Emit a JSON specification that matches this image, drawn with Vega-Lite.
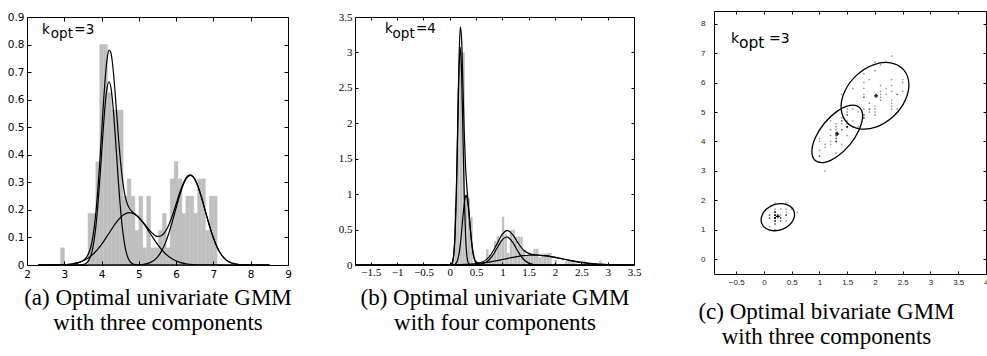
{
"$schema":"https://vega.github.io/schema/vega-lite/v6.json",
"padding":{"left":6,"top":10,"right":0,"bottom":0},
"background":"white",
"config":{"view":{"stroke":"black","strokeWidth":1},"axis":{"grid":false,"domain":false}},
"datasets":{
"histA":[{"x0":2.9,"x1":3.005,"h":0.0625},{"x0":3.635,"x1":3.74,"h":0.1875},{"x0":3.74,"x1":3.845,"h":0.1875},{"x0":3.845,"x1":3.95,"h":0.375},{"x0":3.95,"x1":4.055,"h":0.8},{"x0":4.055,"x1":4.16,"h":0.8},{"x0":4.16,"x1":4.265,"h":0.625},{"x0":4.265,"x1":4.37,"h":0.5625},{"x0":4.37,"x1":4.475,"h":0.5625},{"x0":4.475,"x1":4.58,"h":0.5625},{"x0":4.58,"x1":4.685,"h":0.25},{"x0":4.685,"x1":4.79,"h":0.3125},{"x0":4.79,"x1":4.895,"h":0.25},{"x0":4.895,"x1":5.0,"h":0.125},{"x0":5.0,"x1":5.105,"h":0.25},{"x0":5.105,"x1":5.21,"h":0.0625},{"x0":5.21,"x1":5.315,"h":0.25},{"x0":5.315,"x1":5.42,"h":0.0625},{"x0":5.42,"x1":5.525,"h":0.0625},{"x0":5.525,"x1":5.63,"h":0.125},{"x0":5.63,"x1":5.735,"h":0.1875},{"x0":5.735,"x1":5.84,"h":0.0625},{"x0":5.84,"x1":5.945,"h":0.3125},{"x0":5.945,"x1":6.05,"h":0.375},{"x0":6.05,"x1":6.155,"h":0.3125},{"x0":6.155,"x1":6.26,"h":0.1875},{"x0":6.26,"x1":6.365,"h":0.25},{"x0":6.365,"x1":6.47,"h":0.25},{"x0":6.47,"x1":6.575,"h":0.1875},{"x0":6.575,"x1":6.68,"h":0.3125},{"x0":6.68,"x1":6.785,"h":0.3125},{"x0":6.785,"x1":6.89,"h":0.125},{"x0":6.89,"x1":6.995,"h":0.25},{"x0":6.995,"x1":7.1,"h":0.25}],
"curA":[
{"c":"m","x":2.3,"y":0},{"c":"m","x":2.6,"y":0.0001},{"c":"m","x":2.9,"y":0.0007},{"c":"m","x":3.2,"y":0.0036},{"c":"m","x":3.4,"y":0.0096},{"c":"m","x":3.5,"y":0.0159},{"c":"m","x":3.6,"y":0.0288},{"c":"m","x":3.7,"y":0.0599},{"c":"m","x":3.75,"y":0.0893},{"c":"m","x":3.8,"y":0.1328},{"c":"m","x":3.85,"y":0.1936},{"c":"m","x":3.9,"y":0.2736},{"c":"m","x":3.95,"y":0.3704},{"c":"m","x":4.0,"y":0.4783},{"c":"m","x":4.05,"y":0.5865},{"c":"m","x":4.1,"y":0.6814},{"c":"m","x":4.15,"y":0.7493},{"c":"m","x":4.2,"y":0.7802},{"c":"m","x":4.25,"y":0.7702},{"c":"m","x":4.3,"y":0.7229},{"c":"m","x":4.35,"y":0.6478},{"c":"m","x":4.4,"y":0.5585},{"c":"m","x":4.45,"y":0.4681},{"c":"m","x":4.5,"y":0.3874},{"c":"m","x":4.55,"y":0.3216},{"c":"m","x":4.6,"y":0.2731},{"c":"m","x":4.65,"y":0.2398},{"c":"m","x":4.7,"y":0.2184},{"c":"m","x":4.75,"y":0.2052},{"c":"m","x":4.8,"y":0.1966},{"c":"m","x":4.9,"y":0.1849},{"c":"m","x":5.0,"y":0.1724},{"c":"m","x":5.1,"y":0.1571},{"c":"m","x":5.2,"y":0.1402},{"c":"m","x":5.3,"y":0.1237},{"c":"m","x":5.4,"y":0.1107},{"c":"m","x":5.5,"y":0.1039},{"c":"m","x":5.6,"y":0.1062},{"c":"m","x":5.7,"y":0.1194},{"c":"m","x":5.8,"y":0.1443},{"c":"m","x":5.9,"y":0.1796},{"c":"m","x":6.0,"y":0.2214},{"c":"m","x":6.1,"y":0.2638},{"c":"m","x":6.2,"y":0.2997},{"c":"m","x":6.3,"y":0.3222},{"c":"m","x":6.38,"y":0.3274},{"c":"m","x":6.5,"y":0.3119},{"c":"m","x":6.6,"y":0.2801},{"c":"m","x":6.7,"y":0.2364},{"c":"m","x":6.8,"y":0.1875},{"c":"m","x":6.9,"y":0.1397},{"c":"m","x":7.0,"y":0.0978},{"c":"m","x":7.1,"y":0.0643},{"c":"m","x":7.2,"y":0.0398},{"c":"m","x":7.3,"y":0.0231},{"c":"m","x":7.4,"y":0.0126},{"c":"m","x":7.6,"y":0.0031},{"c":"m","x":7.8,"y":0.0006},{"c":"m","x":8.0,"y":0.0001},{"c":"m","x":8.5,"y":0},
{"c":"c1","x":2.3,"y":0},{"c":"c1","x":3.4,"y":0.0002},{"c":"c1","x":3.5,"y":0.0015},{"c":"c1","x":3.6,"y":0.0074},{"c":"c1","x":3.7,"y":0.0292},{"c":"c1","x":3.75,"y":0.0529},{"c":"c1","x":3.8,"y":0.09},{"c":"c1","x":3.85,"y":0.1438},{"c":"c1","x":3.9,"y":0.216},{"c":"c1","x":3.95,"y":0.3044},{"c":"c1","x":4.0,"y":0.4033},{"c":"c1","x":4.05,"y":0.502},{"c":"c1","x":4.1,"y":0.5869},{"c":"c1","x":4.15,"y":0.6445},{"c":"c1","x":4.2,"y":0.665},{"c":"c1","x":4.25,"y":0.6445},{"c":"c1","x":4.3,"y":0.5869},{"c":"c1","x":4.35,"y":0.502},{"c":"c1","x":4.4,"y":0.4033},{"c":"c1","x":4.45,"y":0.3044},{"c":"c1","x":4.5,"y":0.216},{"c":"c1","x":4.55,"y":0.1438},{"c":"c1","x":4.6,"y":0.09},{"c":"c1","x":4.65,"y":0.0529},{"c":"c1","x":4.7,"y":0.0292},{"c":"c1","x":4.75,"y":0.0152},{"c":"c1","x":4.8,"y":0.0074},{"c":"c1","x":4.9,"y":0.0015},{"c":"c1","x":5.0,"y":0.0002},{"c":"c1","x":8.5,"y":0},
{"c":"c2","x":2.3,"y":0},{"c":"c2","x":2.6,"y":0.0001},{"c":"c2","x":2.9,"y":0.0007},{"c":"c2","x":3.2,"y":0.0036},{"c":"c2","x":3.4,"y":0.0094},{"c":"c2","x":3.6,"y":0.0214},{"c":"c2","x":3.8,"y":0.0428},{"c":"c2","x":4.0,"y":0.075},{"c":"c2","x":4.2,"y":0.1152},{"c":"c2","x":4.4,"y":0.1552},{"c":"c2","x":4.6,"y":0.1831},{"c":"c2","x":4.75,"y":0.19},{"c":"c2","x":4.9,"y":0.1831},{"c":"c2","x":5.1,"y":0.1552},{"c":"c2","x":5.3,"y":0.1152},{"c":"c2","x":5.5,"y":0.075},{"c":"c2","x":5.7,"y":0.0428},{"c":"c2","x":5.9,"y":0.0214},{"c":"c2","x":6.1,"y":0.0094},{"c":"c2","x":6.3,"y":0.0036},{"c":"c2","x":6.6,"y":0.0007},{"c":"c2","x":6.9,"y":0.0001},{"c":"c2","x":8.5,"y":0},
{"c":"c3","x":2.3,"y":0},{"c":"c3","x":4.9,"y":0.0003},{"c":"c3","x":5.1,"y":0.0019},{"c":"c3","x":5.3,"y":0.0085},{"c":"c3","x":5.5,"y":0.0289},{"c":"c3","x":5.6,"y":0.0486},{"c":"c3","x":5.7,"y":0.0766},{"c":"c3","x":5.8,"y":0.1136},{"c":"c3","x":5.9,"y":0.1582},{"c":"c3","x":6.0,"y":0.207},{"c":"c3","x":6.1,"y":0.2544},{"c":"c3","x":6.2,"y":0.2938},{"c":"c3","x":6.3,"y":0.3186},{"c":"c3","x":6.38,"y":0.325},{"c":"c3","x":6.5,"y":0.3107},{"c":"c3","x":6.6,"y":0.2794},{"c":"c3","x":6.7,"y":0.236},{"c":"c3","x":6.8,"y":0.1873},{"c":"c3","x":6.9,"y":0.1396},{"c":"c3","x":7.0,"y":0.0978},{"c":"c3","x":7.1,"y":0.0643},{"c":"c3","x":7.2,"y":0.0398},{"c":"c3","x":7.3,"y":0.0231},{"c":"c3","x":7.4,"y":0.0126},{"c":"c3","x":7.6,"y":0.0031},{"c":"c3","x":7.8,"y":0.0006},{"c":"c3","x":8.0,"y":0.0001},{"c":"c3","x":8.5,"y":0}],
"labA":[{"t":"k","x":2.4,"y":0.837},{"t":"opt","x":2.64,"y":0.824},{"t":"=3","x":3.27,"y":0.837}],
"histB":[{"x0":0.04,"x1":0.085,"h":0.1},{"x0":0.09,"x1":0.135,"h":0.81},{"x0":0.14,"x1":0.185,"h":2.5},{"x0":0.19,"x1":0.235,"h":3.0},{"x0":0.24,"x1":0.285,"h":3.0},{"x0":0.29,"x1":0.335,"h":1.0},{"x0":0.34,"x1":0.385,"h":0.95},{"x0":0.39,"x1":0.435,"h":0.68},{"x0":0.69,"x1":0.735,"h":0.22},{"x0":0.74,"x1":0.785,"h":0.15},{"x0":0.79,"x1":0.835,"h":0.15},{"x0":0.84,"x1":0.885,"h":0.34},{"x0":0.89,"x1":0.935,"h":0.41},{"x0":0.94,"x1":0.985,"h":0.35},{"x0":0.99,"x1":1.035,"h":0.68},{"x0":1.04,"x1":1.085,"h":0.43},{"x0":1.09,"x1":1.135,"h":0.17},{"x0":1.14,"x1":1.185,"h":0.49},{"x0":1.19,"x1":1.235,"h":0.5},{"x0":1.24,"x1":1.285,"h":0.4},{"x0":1.29,"x1":1.335,"h":0.4},{"x0":1.34,"x1":1.385,"h":0.4},{"x0":1.39,"x1":1.435,"h":0.2},{"x0":1.44,"x1":1.485,"h":0.13},{"x0":1.49,"x1":1.535,"h":0.17},{"x0":1.54,"x1":1.585,"h":0.14},{"x0":1.59,"x1":1.635,"h":0.23},{"x0":1.64,"x1":1.685,"h":0.23},{"x0":1.69,"x1":1.735,"h":0.11},{"x0":1.74,"x1":1.785,"h":0.16},{"x0":1.79,"x1":1.835,"h":0.16},{"x0":1.84,"x1":1.885,"h":0.17},{"x0":1.89,"x1":1.935,"h":0.17},{"x0":1.99,"x1":2.035,"h":0.07},{"x0":2.19,"x1":2.235,"h":0.05},{"x0":2.24,"x1":2.285,"h":0.06},{"x0":2.29,"x1":2.335,"h":0.06},{"x0":2.34,"x1":2.385,"h":0.06},{"x0":2.49,"x1":2.535,"h":0.06},{"x0":2.54,"x1":2.585,"h":0.06},{"x0":2.84,"x1":2.885,"h":0.06}],
"curB":[
{"c":"m","x":-1.8,"y":0},{"c":"m","x":-0.2,"y":0.0007},{"c":"m","x":0.0,"y":0.003},{"c":"m","x":0.025,"y":0.009},{"c":"m","x":0.05,"y":0.0375},{"c":"m","x":0.075,"y":0.142},{"c":"m","x":0.1,"y":0.43},{"c":"m","x":0.125,"y":1.031},{"c":"m","x":0.15,"y":1.939},{"c":"m","x":0.175,"y":2.867},{"c":"m","x":0.2,"y":3.361},{"c":"m","x":0.225,"y":3.184},{"c":"m","x":0.25,"y":2.548},{"c":"m","x":0.275,"y":1.87},{"c":"m","x":0.3,"y":1.394},{"c":"m","x":0.325,"y":1.102},{"c":"m","x":0.35,"y":0.877},{"c":"m","x":0.375,"y":0.655},{"c":"m","x":0.4,"y":0.443},{"c":"m","x":0.425,"y":0.268},{"c":"m","x":0.45,"y":0.149},{"c":"m","x":0.475,"y":0.079},{"c":"m","x":0.5,"y":0.0457},{"c":"m","x":0.55,"y":0.0305},{"c":"m","x":0.6,"y":0.0381},{"c":"m","x":0.7,"y":0.0792},{"c":"m","x":0.8,"y":0.1664},{"c":"m","x":0.9,"y":0.3019},{"c":"m","x":1.0,"y":0.4351},{"c":"m","x":1.08,"y":0.4845},{"c":"m","x":1.1,"y":0.4852},{"c":"m","x":1.2,"y":0.4238},{"c":"m","x":1.3,"y":0.3079},{"c":"m","x":1.4,"y":0.2124},{"c":"m","x":1.5,"y":0.1637},{"c":"m","x":1.6,"y":0.1461},{"c":"m","x":1.7,"y":0.1388},{"c":"m","x":1.8,"y":0.131},{"c":"m","x":1.9,"y":0.1207},{"c":"m","x":2.0,"y":0.1075},{"c":"m","x":2.1,"y":0.0926},{"c":"m","x":2.2,"y":0.0772},{"c":"m","x":2.3,"y":0.0623},{"c":"m","x":2.4,"y":0.0486},{"c":"m","x":2.5,"y":0.0367},{"c":"m","x":2.6,"y":0.0268},{"c":"m","x":2.7,"y":0.0189},{"c":"m","x":2.8,"y":0.013},{"c":"m","x":2.9,"y":0.0086},{"c":"m","x":3.0,"y":0.0055},{"c":"m","x":3.2,"y":0.002},{"c":"m","x":3.5,"y":0.0004},
{"c":"c1","x":-1.8,"y":0},{"c":"c1","x":0.0,"y":0.001},{"c":"c1","x":0.025,"y":0.0068},{"c":"c1","x":0.05,"y":0.034},{"c":"c1","x":0.075,"y":0.135},{"c":"c1","x":0.1,"y":0.415},{"c":"c1","x":0.125,"y":0.997},{"c":"c1","x":0.15,"y":1.862},{"c":"c1","x":0.175,"y":2.709},{"c":"c1","x":0.2,"y":3.07},{"c":"c1","x":0.225,"y":2.709},{"c":"c1","x":0.25,"y":1.862},{"c":"c1","x":0.275,"y":0.997},{"c":"c1","x":0.3,"y":0.415},{"c":"c1","x":0.325,"y":0.135},{"c":"c1","x":0.35,"y":0.034},{"c":"c1","x":0.375,"y":0.0068},{"c":"c1","x":0.4,"y":0.001},{"c":"c1","x":3.5,"y":0},
{"c":"c2","x":-1.8,"y":0},{"c":"c2","x":0.05,"y":0.001},{"c":"c2","x":0.1,"y":0.0109},{"c":"c2","x":0.125,"y":0.0298},{"c":"c2","x":0.15,"y":0.0719},{"c":"c2","x":0.175,"y":0.1526},{"c":"c2","x":0.2,"y":0.285},{"c":"c2","x":0.225,"y":0.469},{"c":"c2","x":0.25,"y":0.679},{"c":"c2","x":0.275,"y":0.865},{"c":"c2","x":0.3,"y":0.97},{"c":"c2","x":0.31,"y":0.98},{"c":"c2","x":0.325,"y":0.958},{"c":"c2","x":0.35,"y":0.833},{"c":"c2","x":0.375,"y":0.637},{"c":"c2","x":0.4,"y":0.429},{"c":"c2","x":0.425,"y":0.254},{"c":"c2","x":0.45,"y":0.133},{"c":"c2","x":0.475,"y":0.061},{"c":"c2","x":0.5,"y":0.0246},{"c":"c2","x":0.55,"y":0.0027},{"c":"c2","x":0.6,"y":0},{"c":"c2","x":3.5,"y":0},
{"c":"c3","x":-1.8,"y":0},{"c":"c3","x":0.4,"y":0.0003},{"c":"c3","x":0.5,"y":0.0022},{"c":"c3","x":0.6,"y":0.0113},{"c":"c3","x":0.7,"y":0.0425},{"c":"c3","x":0.8,"y":0.1178},{"c":"c3","x":0.9,"y":0.2396},{"c":"c3","x":1.0,"y":0.3579},{"c":"c3","x":1.08,"y":0.395},{"c":"c3","x":1.1,"y":0.3926},{"c":"c3","x":1.2,"y":0.3163},{"c":"c3","x":1.3,"y":0.1872},{"c":"c3","x":1.4,"y":0.0814},{"c":"c3","x":1.5,"y":0.026},{"c":"c3","x":1.6,"y":0.0061},{"c":"c3","x":1.7,"y":0.0011},{"c":"c3","x":1.8,"y":0},{"c":"c3","x":3.5,"y":0},
{"c":"c4","x":-1.8,"y":0},{"c":"c4","x":-0.2,"y":0.0007},{"c":"c4","x":0.0,"y":0.002},{"c":"c4","x":0.2,"y":0.0055},{"c":"c4","x":0.4,"y":0.013},{"c":"c4","x":0.5,"y":0.0189},{"c":"c4","x":0.6,"y":0.0268},{"c":"c4","x":0.7,"y":0.0367},{"c":"c4","x":0.8,"y":0.0486},{"c":"c4","x":0.9,"y":0.0623},{"c":"c4","x":1.0,"y":0.0772},{"c":"c4","x":1.1,"y":0.0926},{"c":"c4","x":1.2,"y":0.1075},{"c":"c4","x":1.3,"y":0.1207},{"c":"c4","x":1.4,"y":0.131},{"c":"c4","x":1.5,"y":0.1377},{"c":"c4","x":1.6,"y":0.14},{"c":"c4","x":1.7,"y":0.1377},{"c":"c4","x":1.8,"y":0.131},{"c":"c4","x":1.9,"y":0.1207},{"c":"c4","x":2.0,"y":0.1075},{"c":"c4","x":2.1,"y":0.0926},{"c":"c4","x":2.2,"y":0.0772},{"c":"c4","x":2.3,"y":0.0623},{"c":"c4","x":2.4,"y":0.0486},{"c":"c4","x":2.5,"y":0.0367},{"c":"c4","x":2.6,"y":0.0268},{"c":"c4","x":2.7,"y":0.0189},{"c":"c4","x":2.8,"y":0.013},{"c":"c4","x":2.9,"y":0.0086},{"c":"c4","x":3.0,"y":0.0055},{"c":"c4","x":3.2,"y":0.002},{"c":"c4","x":3.5,"y":0.0004}],
"labB":[{"t":"k","x":-1.232,"y":3.27},{"t":"opt","x":-1.086,"y":3.207},{"t":"=4","x":-0.643,"y":3.27}],
"iris":[{"x":0.2,"y":1.4},{"x":0.2,"y":1.4},{"x":0.2,"y":1.3},{"x":0.2,"y":1.5},{"x":0.2,"y":1.4},{"x":0.4,"y":1.7},{"x":0.3,"y":1.4},{"x":0.2,"y":1.5},{"x":0.2,"y":1.4},{"x":0.1,"y":1.5},{"x":0.2,"y":1.5},{"x":0.2,"y":1.6},{"x":0.1,"y":1.4},{"x":0.1,"y":1.1},{"x":0.2,"y":1.2},{"x":0.4,"y":1.5},{"x":0.4,"y":1.3},{"x":0.3,"y":1.4},{"x":0.3,"y":1.7},{"x":0.3,"y":1.5},{"x":0.2,"y":1.7},{"x":0.4,"y":1.5},{"x":0.2,"y":1.0},{"x":0.5,"y":1.7},{"x":0.2,"y":1.9},{"x":0.2,"y":1.6},{"x":0.4,"y":1.6},{"x":0.2,"y":1.5},{"x":0.2,"y":1.4},{"x":0.2,"y":1.6},{"x":0.2,"y":1.6},{"x":0.4,"y":1.5},{"x":0.1,"y":1.5},{"x":0.2,"y":1.4},{"x":0.2,"y":1.5},{"x":0.2,"y":1.2},{"x":0.2,"y":1.3},{"x":0.1,"y":1.4},{"x":0.2,"y":1.3},{"x":0.2,"y":1.5},{"x":0.3,"y":1.3},{"x":0.3,"y":1.3},{"x":0.2,"y":1.3},{"x":0.6,"y":1.6},{"x":0.4,"y":1.9},{"x":0.3,"y":1.4},{"x":0.2,"y":1.6},{"x":0.2,"y":1.4},{"x":0.2,"y":1.5},{"x":0.2,"y":1.4},
{"x":1.4,"y":4.7},{"x":1.5,"y":4.5},{"x":1.5,"y":4.9},{"x":1.3,"y":4.0},{"x":1.5,"y":4.6},{"x":1.3,"y":4.5},{"x":1.6,"y":4.7},{"x":1.0,"y":3.3},{"x":1.3,"y":4.6},{"x":1.4,"y":3.9},{"x":1.0,"y":3.5},{"x":1.5,"y":4.2},{"x":1.0,"y":4.0},{"x":1.4,"y":4.7},{"x":1.3,"y":3.6},{"x":1.4,"y":4.4},{"x":1.5,"y":4.5},{"x":1.0,"y":4.1},{"x":1.5,"y":4.5},{"x":1.1,"y":3.9},{"x":1.8,"y":4.8},{"x":1.3,"y":4.0},{"x":1.5,"y":4.9},{"x":1.2,"y":4.7},{"x":1.3,"y":4.3},{"x":1.4,"y":4.4},{"x":1.4,"y":4.8},{"x":1.7,"y":5.0},{"x":1.5,"y":4.5},{"x":1.0,"y":3.5},{"x":1.1,"y":3.8},{"x":1.0,"y":3.7},{"x":1.2,"y":3.9},{"x":1.6,"y":5.1},{"x":1.5,"y":4.5},{"x":1.6,"y":4.5},{"x":1.5,"y":4.7},{"x":1.3,"y":4.4},{"x":1.3,"y":4.1},{"x":1.3,"y":4.0},{"x":1.2,"y":4.4},{"x":1.4,"y":4.6},{"x":1.2,"y":4.0},{"x":1.0,"y":3.3},{"x":1.3,"y":4.2},{"x":1.2,"y":4.2},{"x":1.3,"y":4.2},{"x":1.3,"y":4.3},{"x":1.1,"y":3.0},{"x":1.3,"y":4.1},
{"x":2.5,"y":6.0},{"x":1.9,"y":5.1},{"x":2.1,"y":5.9},{"x":1.8,"y":5.6},{"x":2.2,"y":5.8},{"x":2.1,"y":6.6},{"x":1.7,"y":4.5},{"x":1.8,"y":6.3},{"x":1.8,"y":5.8},{"x":2.5,"y":6.1},{"x":2.0,"y":5.1},{"x":1.9,"y":5.3},{"x":2.1,"y":5.5},{"x":2.0,"y":5.0},{"x":2.4,"y":5.1},{"x":2.3,"y":5.3},{"x":1.8,"y":5.5},{"x":2.2,"y":6.7},{"x":2.3,"y":6.9},{"x":1.5,"y":5.0},{"x":2.3,"y":5.7},{"x":2.0,"y":4.9},{"x":2.0,"y":6.7},{"x":1.8,"y":4.9},{"x":2.1,"y":5.7},{"x":1.8,"y":6.0},{"x":1.8,"y":4.8},{"x":1.8,"y":4.9},{"x":2.1,"y":5.6},{"x":1.6,"y":5.8},{"x":1.9,"y":6.1},{"x":2.0,"y":6.4},{"x":2.2,"y":5.6},{"x":1.5,"y":5.1},{"x":1.4,"y":5.6},{"x":2.3,"y":6.1},{"x":2.4,"y":5.6},{"x":1.8,"y":5.5},{"x":1.8,"y":4.8},{"x":2.1,"y":5.4},{"x":2.4,"y":5.6},{"x":2.3,"y":5.1},{"x":1.9,"y":5.1},{"x":2.3,"y":5.9},{"x":2.5,"y":5.7},{"x":2.3,"y":5.2},{"x":1.9,"y":5.0},{"x":2.0,"y":5.2},{"x":2.3,"y":5.4},{"x":1.8,"y":5.1}],
"ell":[{"e":1,"i":0,"x":0.541,"y":1.633},{"e":1,"i":1,"x":0.541,"y":1.399},{"e":1,"i":2,"x":0.464,"y":1.172},{"e":1,"i":3,"x":0.329,"y":1.015},{"e":1,"i":4,"x":0.173,"y":0.969},{"e":1,"i":5,"x":0.037,"y":1.047},{"e":1,"i":6,"x":-0.041,"y":1.227},{"e":1,"i":7,"x":-0.041,"y":1.461},{"e":1,"i":8,"x":0.036,"y":1.688},{"e":1,"i":9,"x":0.171,"y":1.845},{"e":1,"i":10,"x":0.327,"y":1.891},{"e":1,"i":11,"x":0.463,"y":1.813},
{"e":2,"i":0,"x":1.716,"y":5.165},{"e":2,"i":1,"x":1.777,"y":4.861},{"e":2,"i":2,"x":1.715,"y":4.395},{"e":2,"i":3,"x":1.548,"y":3.893},{"e":2,"i":4,"x":1.319,"y":3.49},{"e":2,"i":5,"x":1.091,"y":3.293},{"e":2,"i":6,"x":0.924,"y":3.355},{"e":2,"i":7,"x":0.863,"y":3.659},{"e":2,"i":8,"x":0.925,"y":4.125},{"e":2,"i":9,"x":1.092,"y":4.627},{"e":2,"i":10,"x":1.321,"y":5.03},{"e":2,"i":11,"x":1.549,"y":5.227},
{"e":3,"i":0,"x":2.514,"y":6.438},{"e":3,"i":1,"x":2.61,"y":5.968},{"e":3,"i":2,"x":2.542,"y":5.387},{"e":3,"i":3,"x":2.329,"y":4.848},{"e":3,"i":4,"x":2.028,"y":4.498},{"e":3,"i":5,"x":1.719,"y":4.43},{"e":3,"i":6,"x":1.486,"y":4.662},{"e":3,"i":7,"x":1.39,"y":5.132},{"e":3,"i":8,"x":1.458,"y":5.713},{"e":3,"i":9,"x":1.671,"y":6.252},{"e":3,"i":10,"x":1.972,"y":6.602},{"e":3,"i":11,"x":2.281,"y":6.67}],
"ctr":[{"x":0.25,"y":1.46},{"x":1.32,"y":4.26},{"x":2.02,"y":5.55}],
"labC":[{"t":"k","x":-0.594,"y":7.355},{"t":"=3","x":0.09,"y":7.355}],
"labC2":[{"t":"opt","x":-0.45,"y":7.185}]
},
"spacing":55,
"hconcat":[
{"spacing":-2,"vconcat":[
{"width":1,"height":1,"view":{"stroke":null},"data":{"values":[]},"mark":{"type":"point","opacity":0},"encoding":{}},
{"spacing":45,"hconcat":[
{"width":261,"height":248,
"resolve":{"axis":{"x":"independent","y":"independent"}},
"layer":[
{"data":{"name":"histA"},"mark":{"type":"rect","color":"#bfbfbf","stroke":"#bfbfbf","strokeWidth":0.4},
"encoding":{
"x":{"field":"x0","type":"quantitative","scale":{"domain":[2,9],"nice":false,"zero":false},"axis":{"orient":"bottom","values":[2,3,4,5,6,7,8,9],"format":"~g","tickSize":-4,"tickColor":"black","labelPadding":8,"labelFont":"DejaVu Sans","labelFontSize":10.5,"labelColor":"black","labelFlush":false,"labelOverlap":false,"labelBound":false,"zindex":1,"title":["(a) Optimal univariate GMM","with three components"],"titleFont":"Liberation Serif","titleFontSize":23,"titleFontWeight":"normal","titleColor":"black","titleLineHeight":25,"titleBaseline":"alphabetic","titleY":39}},
"x2":{"field":"x1"},
"y":{"field":"h","type":"quantitative","scale":{"domain":[0,0.9],"nice":false,"zero":false},"axis":{"orient":"left","values":[0,0.1,0.2,0.3,0.4,0.5,0.6,0.7,0.8,0.9],"format":"~g","tickSize":-4,"tickColor":"black","labelPadding":7,"labelFont":"DejaVu Sans","labelFontSize":10.5,"labelColor":"black","labelFlush":false,"labelOverlap":false,"labelBound":false,"zindex":1,"title":null}},
"y2":{"datum":0}}},
{"data":{"name":"curA"},"mark":{"type":"line","color":"black","strokeWidth":1.2,"interpolate":"monotone","clip":true},
"encoding":{
"x":{"field":"x","type":"quantitative","scale":{"domain":[2,9],"nice":false,"zero":false},"axis":{"orient":"top","values":[2,3,4,5,6,7,8,9],"tickSize":-4,"tickColor":"black","labels":false,"zindex":1,"title":null}},
"y":{"field":"y","type":"quantitative","scale":{"domain":[0,0.9],"nice":false,"zero":false},"axis":{"orient":"right","values":[0,0.1,0.2,0.3,0.4,0.5,0.6,0.7,0.8,0.9],"tickSize":-4,"tickColor":"black","labels":false,"zindex":1,"title":null}},
"detail":{"field":"c"}}},
{"data":{"name":"labA"},"mark":{"type":"text","align":"left","baseline":"alphabetic","font":"DejaVu Sans","fontSize":13.5,"color":"black"},
"encoding":{
"x":{"field":"x","type":"quantitative","scale":{"domain":[2,9],"nice":false,"zero":false},"axis":null},
"y":{"field":"y","type":"quantitative","scale":{"domain":[0,0.9],"nice":false,"zero":false},"axis":null},
"text":{"field":"t"}}}
]},
{"width":279,"height":248,
"resolve":{"axis":{"x":"independent","y":"independent"}},
"layer":[
{"data":{"name":"histB"},"mark":{"type":"rect","color":"#bfbfbf"},
"encoding":{
"x":{"field":"x0","type":"quantitative","scale":{"domain":[-1.8,3.5],"nice":false,"zero":false},"axis":{"orient":"bottom","values":[-1.5,-1,-0.5,0,0.5,1,1.5,2,2.5,3,3.5],"format":"~g","tickSize":-3,"tickColor":"black","labelPadding":4.5,"labelFont":"Liberation Serif","labelFontSize":11,"labelColor":"black","labelFlush":false,"labelOverlap":false,"labelBound":false,"zindex":1,"title":["(b) Optimal univariate GMM","with four components"],"titleFont":"Liberation Serif","titleFontSize":23,"titleFontWeight":"normal","titleColor":"black","titleLineHeight":25,"titleBaseline":"alphabetic","titleY":39}},
"x2":{"field":"x1"},
"y":{"field":"h","type":"quantitative","scale":{"domain":[0,3.5],"nice":false,"zero":false},"axis":{"orient":"left","values":[0,0.5,1,1.5,2,2.5,3,3.5],"format":"~g","tickSize":-3,"tickColor":"black","labelPadding":6,"labelFont":"Liberation Serif","labelFontSize":11,"labelColor":"black","labelFlush":false,"labelOverlap":false,"labelBound":false,"zindex":1,"title":null}},
"y2":{"datum":0}}},
{"data":{"name":"curB"},"mark":{"type":"line","color":"black","strokeWidth":1.2,"interpolate":"monotone","clip":true},
"encoding":{
"x":{"field":"x","type":"quantitative","scale":{"domain":[-1.8,3.5],"nice":false,"zero":false},"axis":{"orient":"top","values":[-1.5,-1,-0.5,0,0.5,1,1.5,2,2.5,3,3.5],"tickSize":-3,"tickColor":"black","labels":false,"zindex":1,"title":null}},
"y":{"field":"y","type":"quantitative","scale":{"domain":[0,3.5],"nice":false,"zero":false},"axis":{"orient":"right","values":[0,0.5,1,1.5,2,2.5,3,3.5],"tickSize":-3,"tickColor":"black","labels":false,"zindex":1,"title":null}},
"detail":{"field":"c"}}},
{"data":{"name":"labB"},"mark":{"type":"text","align":"left","baseline":"alphabetic","font":"DejaVu Sans","fontSize":13.5,"color":"black"},
"encoding":{
"x":{"field":"x","type":"quantitative","scale":{"domain":[-1.8,3.5],"nice":false,"zero":false},"axis":null},
"y":{"field":"y","type":"quantitative","scale":{"domain":[0,3.5],"nice":false,"zero":false},"axis":null},
"text":{"field":"t"}}}
]}
]}
]},
{"width":272,"height":263,
"resolve":{"axis":{"x":"independent","y":"independent"}},
"layer":[
{"data":{"name":"iris"},"mark":{"type":"point","shape":"square","filled":true,"size":2,"color":"black","opacity":0.45},
"encoding":{
"x":{"field":"x","type":"quantitative","scale":{"domain":[-0.9,4.0],"nice":false,"zero":false},"axis":{"orient":"bottom","values":[-0.5,0,0.5,1,1.5,2,2.5,3,3.5,4],"format":"~g","tickSize":-3,"tickColor":"black","labelPadding":7,"labelFont":"Liberation Sans","labelFontSize":8,"labelColor":"#222","labelFlush":false,"labelOverlap":false,"labelBound":false,"zindex":1,"title":["(c) Optimal bivariate GMM","with three components"],"titleFont":"Liberation Serif","titleFontSize":23,"titleFontWeight":"normal","titleColor":"black","titleLineHeight":25,"titleBaseline":"alphabetic","titleX":112,"titleY":44}},
"y":{"field":"y","type":"quantitative","scale":{"domain":[-0.5,8.43],"nice":false,"zero":false},"axis":{"orient":"left","values":[0,1,2,3,4,5,6,7,8],"format":"~g","tickSize":-3,"tickColor":"black","labelPadding":12,"labelFont":"Liberation Sans","labelFontSize":8,"labelColor":"#222","labelFlush":false,"labelOverlap":false,"labelBound":false,"zindex":1,"title":null}}}},
{"data":{"name":"ell"},"mark":{"type":"line","color":"black","strokeWidth":1.3,"interpolate":"cardinal-closed"},
"encoding":{
"x":{"field":"x","type":"quantitative","scale":{"domain":[-0.9,4.0],"nice":false,"zero":false},"axis":{"orient":"top","values":[-0.5,0,0.5,1,1.5,2,2.5,3,3.5,4],"tickSize":-3,"tickColor":"black","labels":false,"zindex":1,"title":null}},
"y":{"field":"y","type":"quantitative","scale":{"domain":[-0.5,8.43],"nice":false,"zero":false},"axis":{"orient":"right","values":[0,1,2,3,4,5,6,7,8],"tickSize":-3,"tickColor":"black","labels":false,"zindex":1,"title":null}},
"detail":{"field":"e"},
"order":{"field":"i"}}},
{"data":{"name":"ctr"},"mark":{"type":"point","shape":"M-1,0L1,0M0,-1L0,1","size":16,"filled":false,"stroke":"black","strokeWidth":1.2,"opacity":1},
"encoding":{
"x":{"field":"x","type":"quantitative","scale":{"domain":[-0.9,4.0],"nice":false,"zero":false},"axis":null},
"y":{"field":"y","type":"quantitative","scale":{"domain":[-0.5,8.43],"nice":false,"zero":false},"axis":null}}},
{"data":{"name":"labC"},"mark":{"type":"text","align":"left","baseline":"alphabetic","font":"DejaVu Sans","fontSize":14,"color":"black"},
"encoding":{
"x":{"field":"x","type":"quantitative","scale":{"domain":[-0.9,4.0],"nice":false,"zero":false},"axis":null},
"y":{"field":"y","type":"quantitative","scale":{"domain":[-0.5,8.43],"nice":false,"zero":false},"axis":null},
"text":{"field":"t"}}},
{"data":{"name":"labC2"},"mark":{"type":"text","align":"left","baseline":"alphabetic","font":"DejaVu Sans","fontSize":15.5,"color":"black"},
"encoding":{
"x":{"field":"x","type":"quantitative","scale":{"domain":[-0.9,4.0],"nice":false,"zero":false},"axis":null},
"y":{"field":"y","type":"quantitative","scale":{"domain":[-0.5,8.43],"nice":false,"zero":false},"axis":null},
"text":{"field":"t"}}}
]}
]
}
